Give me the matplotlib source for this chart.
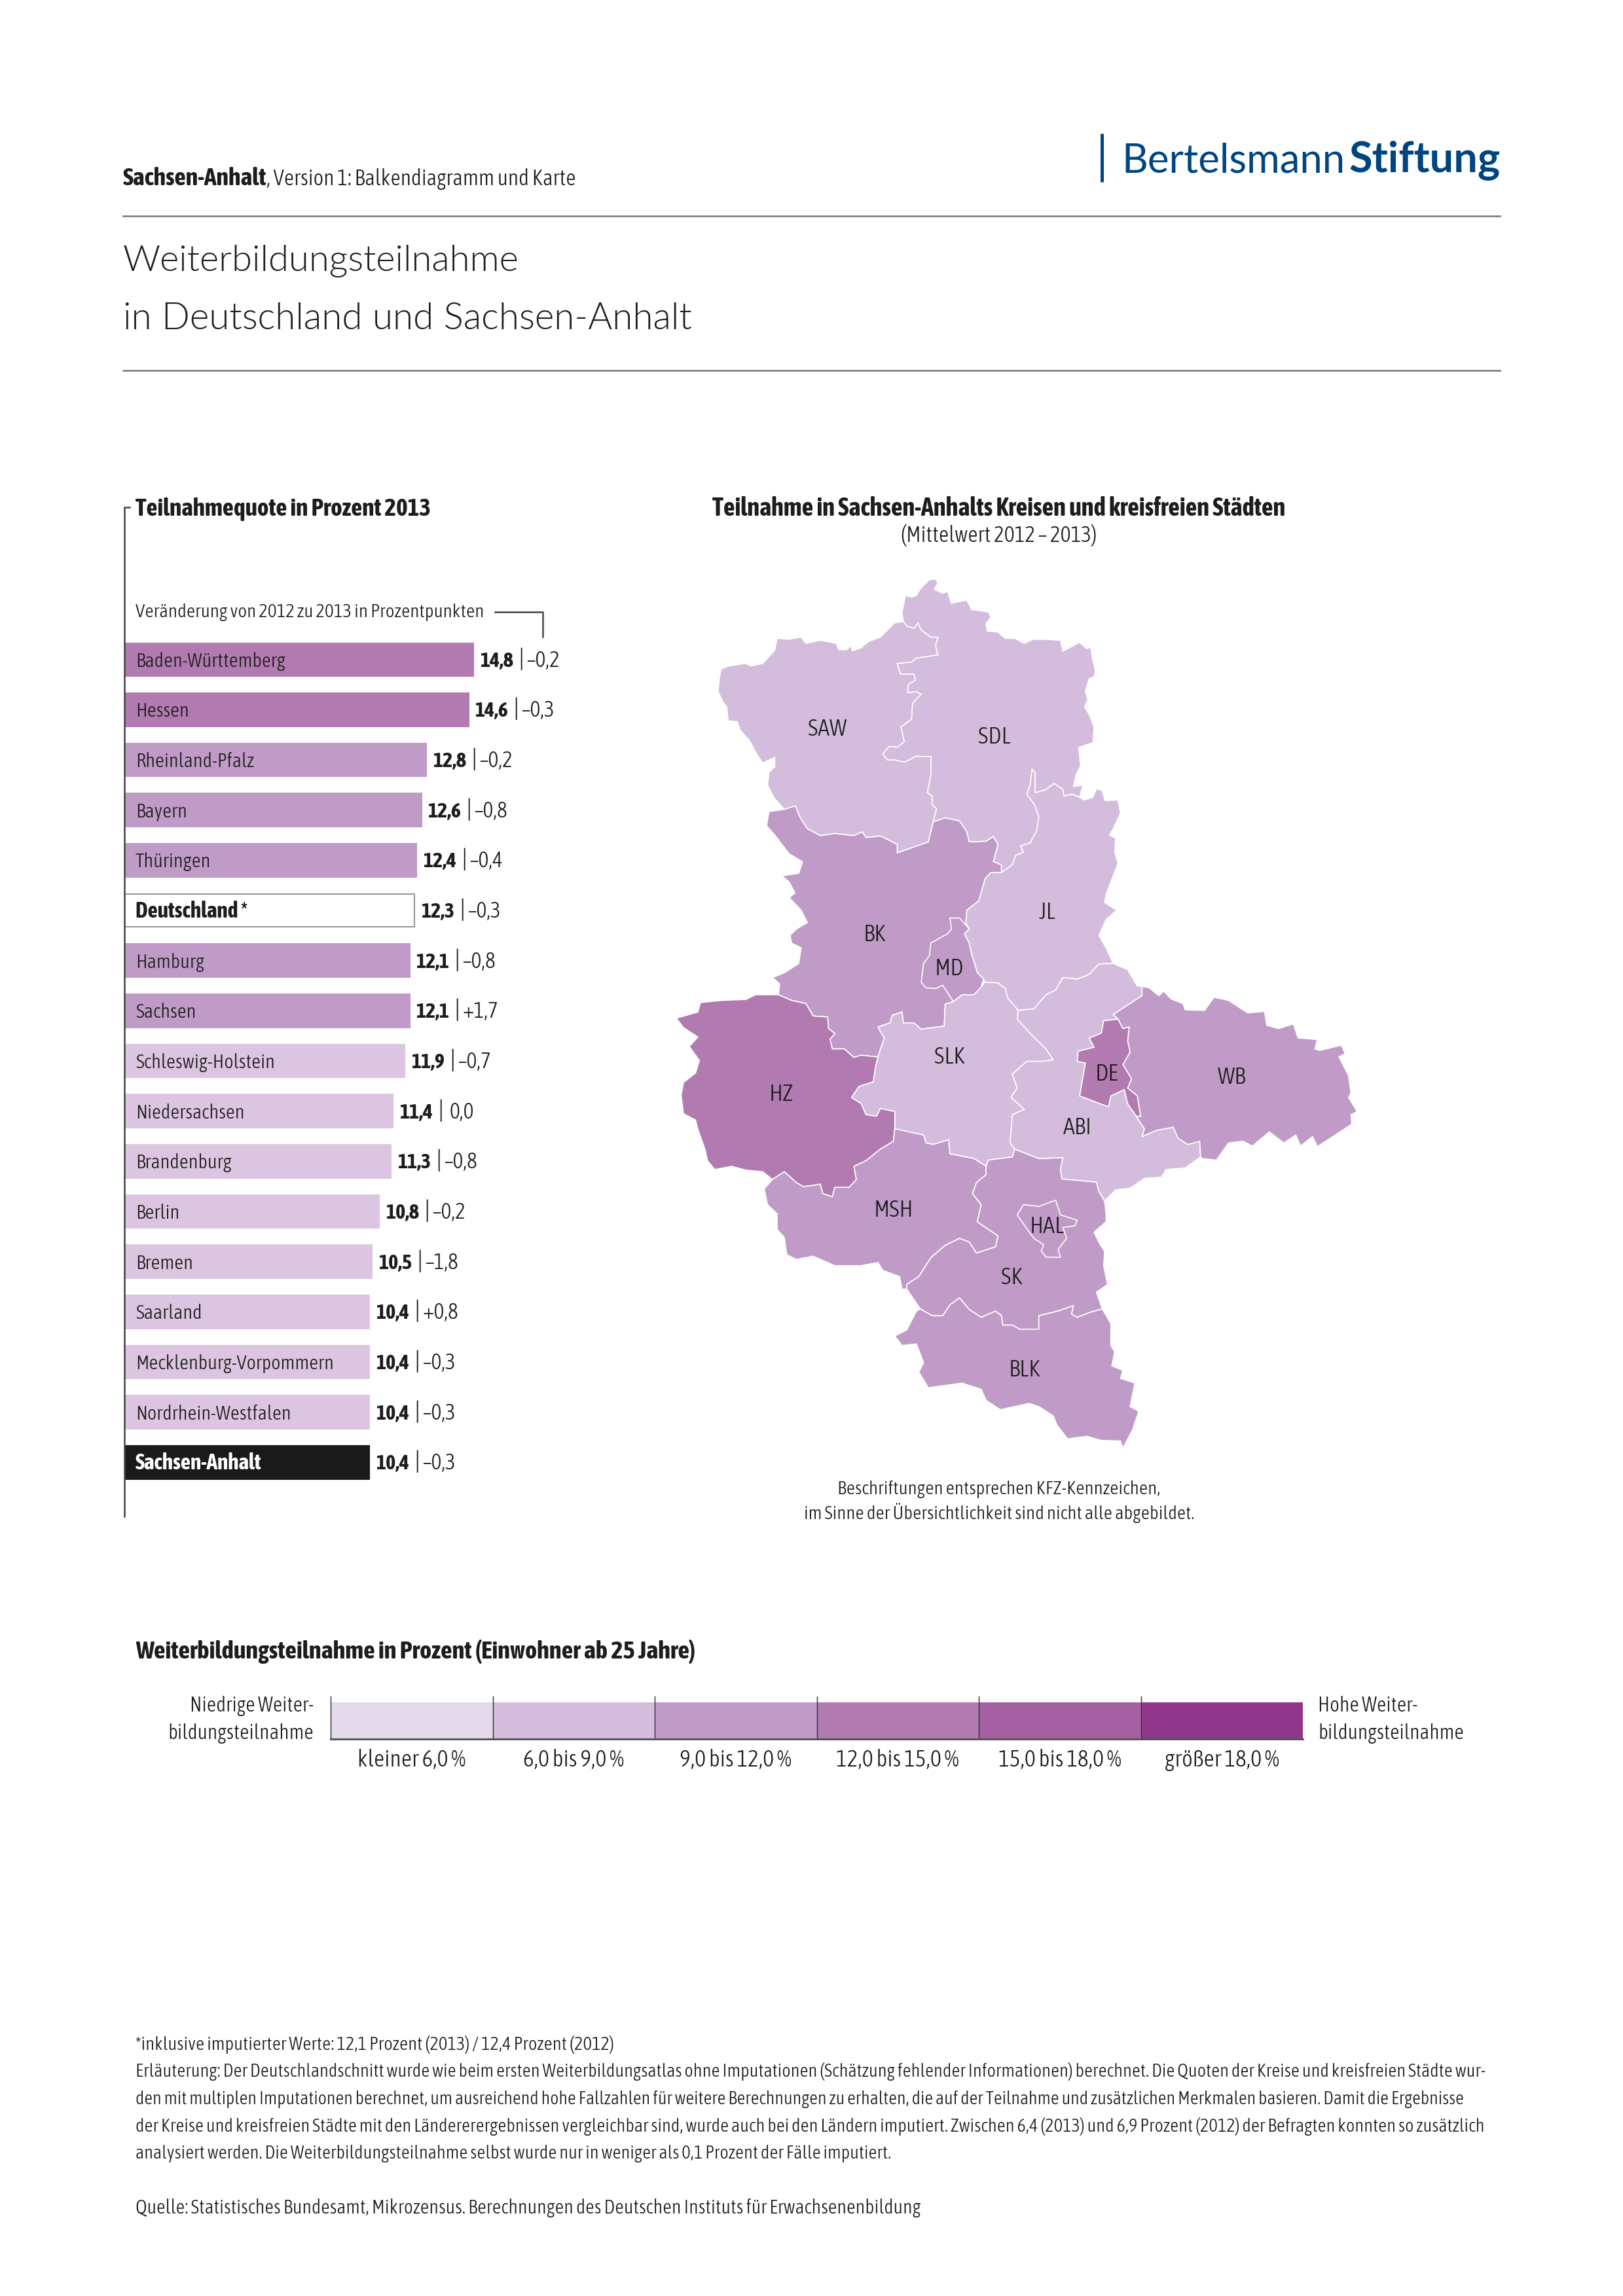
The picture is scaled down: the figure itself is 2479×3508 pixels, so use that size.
import os
import matplotlib
matplotlib.use('Agg')
import matplotlib.pyplot as plt
from matplotlib import font_manager as fm
from matplotlib.patches import Polygon

W, H = 2479, 3508
DPI = 300

plt.rcParams['font.family'] = ['DejaVu Sans']


def find_face(style):
    # look for a condensed face by file name, weights of these families are not reliable by name
    prefixes = ['OpenSansCondensed', 'OpenSans_Condensed', 'OpenSans-Condensed', 'NotoSans-Condensed',
                'NotoSansCondensed', 'AsapCondensed', 'BarlowCondensed', 'LiberationSansNarrow']
    fallback = {'Light': 'Regular', 'Bold': 'Bold'}
    for prefix in prefixes:
        for want in (style, fallback[style]):
            for f in fm.fontManager.ttflist:
                base = os.path.basename(f.fname)
                if not base.startswith(prefix) or want not in base or 'Italic' in base:
                    continue
                if want == 'Bold' and ('Extra' in base or 'Semi' in base):
                    continue
                if want == 'Light' and 'Extra' in base:
                    continue
                return f.fname
    return fm.findfont('DejaVu Sans')


LIGHT_FILE = find_face('Light')
BOLD_FILE = find_face('Bold')

# bar chart
laender = ['Baden-Württemberg', 'Hessen', 'Rheinland-Pfalz', 'Bayern', 'Thüringen', 'Deutschland *',
           'Hamburg', 'Sachsen', 'Schleswig-Holstein', 'Niedersachsen', 'Brandenburg', 'Berlin',
           'Bremen', 'Saarland', 'Mecklenburg-Vorpommern', 'Nordrhein-Westfalen', 'Sachsen-Anhalt']
quote = [14.8, 14.6, 12.8, 12.6, 12.4, 12.3, 12.1, 12.1, 11.9, 11.4, 11.3, 10.8, 10.5, 10.4, 10.4, 10.4, 10.4]
aenderung = ['–0,2', '–0,3', '–0,2', '–0,8', '–0,4', '–0,3', '–0,8', '+1,7', '–0,7', '0,0', '–0,8', '–0,2',
             '–1,8', '+0,8', '–0,3', '–0,3', '–0,3']

# legend
klassen = ['kleiner 6,0 %', '6,0 bis 9,0 %', '9,0 bis 12,0 %', '12,0 bis 15,0 %', '15,0 bis 18,0 %', 'größer 18,0 %']
klassen_farben = ['#e4d8eb', '#d4bcdc', '#c09bc8', '#b17ab1', '#a560a3', '#8f378b']

C_LIGHT = '#d4bcdc'
C_MID = '#c09bc8'
C_DARK = '#b17ab1'
C_BAR_LIGHT = '#dcc5e0'
C_TEXT = '#1d1d1b'
C_BLUE = '#00457f'

# map outlines (map axes units)
SAW = [(518,208),(500,212),(485,235),(470,258),(445,272),(430,292),(412,302),(408,285),(400,298),(383,298),(378,278),
       (345,268),(315,278),(305,258),(280,265),(255,262),(250,300),(238,320),(225,342),(200,350),(190,342),(155,350),
       (138,360),(135,385),(132,432),(142,465),(150,480),(153,525),(172,528),(178,555),(198,590),(212,630),(225,660),
       (250,642),(250,672),(238,690),(235,730),(248,770),(270,808),(293,797),(303,835),(318,870),(345,892),(375,885),
       (415,892),(432,880),(440,898),(470,893),(505,920),(505,947),(570,912),(580,848),(587,805),(578,795),(578,765),
       (568,755),(575,700),(576,640),(545,638),(520,657),(500,650),(485,650),(475,632),(488,607),(505,610),(520,592),
       (513,545),(535,520),(537,470),(555,440),(545,432),(527,435),(528,410),(543,395),(540,376),(512,376),(505,342),
       (535,338),(545,325),(590,315),(585,285),(590,258),(575,258),(555,235),(548,212),(540,230),(525,222)]
SDL = [(518,208),(515,180),(522,125),(535,130),(545,125),(555,100),(572,75),(585,72),(590,85),(582,105),(600,118),
       (610,112),(618,150),(632,145),(650,140),(660,170),(695,178),(700,195),(690,215),(692,238),(715,242),(730,262),
       (750,262),(770,278),(788,265),(815,265),(845,268),(850,303),(885,275),(900,295),(908,290),(912,330),(918,365),
       (915,385),(905,390),(897,430),(902,460),(895,480),(905,505),(915,545),(913,595),(883,610),(887,670),(878,695),
       (872,735),(892,730),(885,770),(870,760),(852,765),(850,745),(832,725),(815,745),(792,755),(792,690),(786,680),
       (782,730),(775,760),(790,790),(800,830),(796,875),(782,915),(762,925),(768,945),(752,955),(745,985),(722,1010),
       (722,985),(705,975),(715,920),(705,895),(690,910),(655,912),(650,880),(635,845),(605,835),(580,848),(587,805),
       (578,795),(578,765),(568,755),(575,700),(576,640),(545,638),(520,657),(500,650),(485,650),(475,632),(488,607),
       (505,610),(520,592),(513,545),(535,520),(537,470),(555,440),(545,432),(527,435),(528,410),(543,395),(540,376),
       (512,376),(505,342),(535,338),(545,325),(590,315),(585,285),(590,258),(575,258),(555,235),(548,212),(540,230),
       (525,222)]
BK = [(293,797),(303,835),(318,870),(345,892),(375,885),(415,892),(432,880),(440,898),(470,893),(505,920),(505,947),
      (570,912),(580,848),(605,835),(635,845),(650,880),(655,912),(690,910),(705,895),(715,920),(705,975),(722,985),
      (722,1010),(700,1010),(688,1030),(675,1100),(650,1130),(648,1170),(655,1190),(645,1205),(630,1300),(622,1422),
      (605,1430),(603,1500),(555,1510),(540,1490),(518,1490),(515,1455),(495,1465),(490,1490),(465,1503),(478,1538),
      (465,1598),(460,1598),(430,1593),(415,1600),(395,1573),(370,1573),(365,1543),(375,1523),(362,1508),(360,1471),
      (330,1468),(315,1428),(285,1418),(258,1400),(260,1365),(245,1345),(270,1330),(300,1300),(305,1250),(285,1235),
      (282,1210),(295,1190),(318,1170),(305,1130),(280,1090),(292,1075),(280,1040),(265,1020),(300,1012),(308,975),
      (280,950),(250,890),(233,860),(238,815),(270,808)]
MD = [(615,1155),(635,1155),(655,1190),(645,1205),(655,1235),(660,1270),(672,1330),(685,1350),(680,1375),(665,1400),
      (640,1400),(622,1422),(600,1370),(585,1380),(565,1378),(555,1360),(560,1300),(572,1275),(575,1235),(610,1205),
      (618,1190)]
JL = [(885,770),(895,778),(912,770),(920,742),(932,748),(938,780),(965,778),(970,820),(955,870),(947,890),(960,900),
      (958,945),(965,980),(950,1040),(940,1080),(937,1105),(962,1130),(940,1160),(925,1210),(940,1250),(955,1300),
      (925,1302),(905,1335),(880,1350),(850,1345),(835,1385),(815,1400),(790,1445),(757,1450),(735,1410),(730,1380),
      (715,1362),(688,1360),(685,1350),(672,1330),(660,1270),(655,1235),(645,1205),(655,1190),(648,1170),(650,1130),
      (675,1100),(688,1030),(700,1010),(722,1010),(745,985),(752,955),(768,945),(762,925),(782,915),(796,875),(800,830),
      (790,790),(775,760),(782,730),(786,680),(792,690),(792,755),(815,745),(832,725),(850,745),(852,765),(870,760)]
SLK = [(490,1490),(495,1465),(515,1455),(518,1490),(540,1490),(555,1510),(603,1500),(605,1430),(622,1422),(640,1400),
       (665,1400),(680,1375),(688,1360),(715,1362),(730,1380),(735,1410),(757,1450),(755,1478),(785,1528),(815,1573),
       (830,1608),(805,1613),(775,1613),(745,1653),(755,1698),(742,1728),(770,1766),(745,1783),(740,1873),(750,1893),
       (745,1918),(695,1928),(690,1948),(665,1923),(615,1908),(612,1863),(580,1878),(565,1873),(560,1848),(530,1838),
       (500,1828),(500,1773),(470,1763),(462,1788),(440,1783),(430,1748),(410,1728),(425,1693),(455,1678),(460,1628),
       (465,1598),(478,1538),(465,1503)]
HZ = [(258,1400),(285,1418),(315,1428),(330,1468),(360,1471),(362,1508),(375,1523),(365,1543),(370,1573),(395,1573),
      (415,1600),(430,1593),(460,1598),(465,1598),(460,1628),(455,1678),(425,1693),(410,1728),(430,1748),(440,1783),
      (462,1788),(470,1763),(500,1773),(500,1828),(497,1868),(470,1893),(440,1930),(415,1948),(420,1990),(405,2015),
      (375,2015),(370,2045),(350,2035),(345,2005),(310,2013),(295,2000),(270,1965),(245,1990),(225,1965),(190,1960),
      (160,1948),(125,1958),(110,1930),(105,1895),(90,1830),(85,1800),(60,1780),(55,1720),(60,1680),(85,1650),(93,1610),
      (72,1565),(90,1535),(60,1505),(45,1475),(90,1455),(95,1425),(140,1418),(190,1415),(210,1400)]
MSH = [(500,1828),(497,1868),(470,1893),(440,1930),(415,1948),(420,1990),(405,2015),(375,2015),(370,2045),(350,2035),
       (345,2005),(310,2013),(295,2000),(270,1965),(245,1990),(228,2020),(235,2070),(255,2100),(255,2150),(270,2175),
       (275,2230),(295,2245),(330,2235),(375,2265),(430,2265),(465,2255),(475,2280),(510,2300),(515,2340),(525,2340),
       (525,2325),(550,2300),(575,2240),(605,2200),(635,2178),(655,2190),(670,2225),(710,2205),(715,2170),(672,2125),
       (680,2070),(662,2035),(670,2000),(690,1975),(690,1948),(665,1923),(615,1908),(612,1863),(580,1878),(565,1873),
       (560,1848),(530,1838)]
SK = [(690,1948),(695,1928),(745,1918),(750,1893),(800,1923),(850,1920),(845,1958),(848,1988),(920,1998),(925,2028),
      (937,2058),(940,2100),(940,2125),(915,2158),(925,2190),(937,2220),(935,2265),(943,2325),(920,2350),(932,2403),
      (905,2415),(880,2430),(868,2420),(872,2393),(840,2410),(800,2425),(800,2468),(760,2468),(745,2455),(725,2455),
      (722,2425),(710,2410),(680,2430),(655,2405),(635,2368),(615,2390),(600,2425),(578,2425),(553,2403),(525,2340),
      (525,2325),(550,2300),(575,2240),(605,2200),(635,2178),(655,2190),(670,2225),(710,2205),(715,2170),(672,2125),
      (680,2070),(662,2035),(670,2000),(690,1975)]
HAL = [(768,2070),(800,2076),(835,2056),(845,2103),(880,2120),(875,2138),(850,2143),(858,2178),(840,2213),(845,2238),
       (815,2238),(805,2218),(810,2198),(790,2178),(780,2158),(755,2103)]
BLK = [(553,2403),(578,2425),(600,2425),(615,2390),(635,2368),(655,2405),(680,2430),(710,2410),(722,2425),(725,2455),
       (745,2455),(760,2468),(800,2468),(800,2425),(840,2410),(872,2393),(868,2420),(880,2430),(905,2415),(932,2403),
       (950,2450),(950,2520),(958,2540),(952,2585),(975,2600),(970,2625),(1000,2640),(990,2715),(1008,2730),(995,2790),
       (975,2848),(970,2825),(930,2823),(900,2810),(860,2818),(838,2775),(830,2745),(800,2715),(780,2705),(720,2725),
       (690,2695),(680,2660),(640,2640),(570,2655),(550,2605),(560,2575),(545,2515),(515,2520),(500,2490),(525,2470),
       (545,2410)]
ABI = [(955,1300),(985,1320),(1005,1372),(1015,1373),(1015,1403),(985,1433),(955,1463),(965,1478),(935,1483),(930,1523),
       (905,1538),(915,1568),(882,1580),(880,1613),(897,1618),(885,1723),(945,1758),(950,1723),(978,1703),(985,1748),
       (1003,1788),(1020,1828),(1015,1853),(1045,1833),(1080,1823),(1090,1858),(1110,1878),(1135,1868),(1137,1918),
       (1105,1953),(1065,1958),(1055,1983),(1020,1986),(990,2018),(960,2023),(937,2058),(925,2028),(920,1998),(848,1988),
       (845,1958),(850,1920),(800,1923),(750,1893),(740,1873),(745,1783),(770,1766),(742,1728),(755,1698),(745,1653),
       (775,1613),(805,1613),(830,1608),(815,1573),(785,1528),(755,1478),(757,1450),(790,1445),(815,1400),(835,1385),
       (850,1345),(880,1350),(905,1335),(925,1302)]
DE = [(965,1478),(975,1508),(988,1503),(985,1548),(990,1583),(975,1623),(993,1668),(985,1698),(1005,1723),(1012,1788),
      (1003,1788),(985,1748),(978,1703),(950,1723),(945,1758),(885,1723),(897,1618),(880,1613),(882,1580),(915,1568),
      (905,1538),(930,1523),(935,1483)]
WB = [(1015,1373),(1030,1378),(1050,1403),(1060,1388),(1075,1413),(1100,1428),(1105,1448),(1145,1450),(1165,1408),
      (1195,1418),(1235,1458),(1270,1453),(1275,1498),(1300,1508),(1330,1493),(1340,1538),(1380,1543),(1375,1573),
      (1385,1578),(1430,1561),(1438,1588),(1425,1598),(1445,1658),(1450,1713),(1445,1728),(1463,1773),(1450,1783),
      (1452,1813),(1380,1885),(1370,1853),(1345,1883),(1335,1848),(1310,1873),(1280,1838),(1245,1883),(1225,1868),
      (1195,1873),(1170,1928),(1140,1923),(1137,1918),(1135,1868),(1110,1878),(1090,1858),(1080,1823),(1045,1833),
      (1015,1853),(1020,1828),(1003,1788),(1012,1788),(1005,1723),(985,1698),(993,1668),(975,1623),(990,1583),(985,1548),
      (988,1503),(975,1508),(965,1478),(955,1463),(985,1433),(1015,1403)]

kreise = [('SAW', SAW, C_LIGHT, 360, 552), ('SDL', SDL, C_LIGHT, 707, 576), ('BK', BK, C_MID, 458, 1209),
          ('JL', JL, C_LIGHT, 817, 1137), ('MD', MD, C_MID, 613, 1316), ('SLK', SLK, C_LIGHT, 614, 1598),
          ('HZ', HZ, C_DARK, 264, 1717), ('MSH', MSH, C_MID, 497, 2087), ('SK', SK, C_MID, 744, 2304),
          ('HAL', HAL, C_MID, 817, 2140), ('BLK', BLK, C_MID, 770, 2597), ('ABI', ABI, C_LIGHT, 881, 1824),
          ('WB', WB, C_MID, 1202, 1664), ('DE', DE, C_DARK, 942, 1654)]

footer = ['*inklusive imputierter Werte: 12,1 Prozent (2013) / 12,4 Prozent (2012)',
          'Erläuterung: Der Deutschlandschnitt wurde wie beim ersten Weiterbildungsatlas ohne Imputationen (Schätzung fehlender Informationen) berechnet. Die Quoten der Kreise und kreisfreien Städte wur-',
          'den mit multiplen Imputationen berechnet, um ausreichend hohe Fallzahlen für weitere Berechnungen zu erhalten, die auf der Teilnahme und zusätzlichen Merkmalen basieren. Damit die Ergebnisse',
          'der Kreise und kreisfreien Städte mit den Ländererergebnissen vergleichbar sind, wurde auch bei den Ländern imputiert. Zwischen 6,4 (2013) und 6,9 Prozent (2012) der Befragten konnten so zusätzlich',
          'analysiert werden. Die Weiterbildungsteilnahme selbst wurde nur in weniger als 0,1 Prozent der Fälle imputiert.']
footer_breite = [731, 2058, 2033, 2058, None]
quelle = 'Quelle: Statistisches Bundesamt, Mikrozensus. Berechnungen des Deutschen Instituts für Erwachsenenbildung'

fig = plt.figure(figsize=(W / DPI, H / DPI), dpi=DPI, facecolor='white')
renderer = fig.canvas.get_renderer()


def add_axes_px(x0, y0, x1, y1):
    return fig.add_axes([x0 / W, 1 - y1 / H, (x1 - x0) / W, (y1 - y0) / H])


page = add_axes_px(0, 0, W, H)
page.set_xlim(0, W)
page.set_ylim(H, 0)
page.axis('off')
page.set_zorder(5)


def face(bold, size):
    return fm.FontProperties(fname=BOLD_FILE if bold else LIGHT_FILE, size=size)


def txt(x, y, s, size=8.2, ha='left', bold=False, color=C_TEXT, width=None):
    # width = wanted width in pixels, font size is scaled to it
    t = page.text(x, y, s, ha=ha, va='baseline', color=color, fontproperties=face(bold, size))
    if width:
        t.set_fontsize(size * width / t.get_window_extent(renderer).width)
    return t


def lato(x, y, s, width, weight, color):
    t = page.text(x, y, s, va='baseline', color=color, fontsize=14, fontweight=weight, fontfamily=['Lato', 'DejaVu Sans'])
    t.set_fontsize(14 * width / t.get_window_extent(renderer).width)


def size_for(s, width, bold=False):
    t = txt(0, 0, s, size=10, bold=bold)
    w = t.get_window_extent(renderer).width
    t.remove()
    return 10 * width / w


def px(v):
    return v * 72 / DPI


body = size_for('Baden-Württemberg', 228)
boldsize = size_for('14,8', 51, True)

# header
txt(188, 283, 'Sachsen-Anhalt', bold=True, width=219)
txt(407, 283, ', Version 1: Balkendiagramm und Karte', width=472)
page.plot([188, 2291], [330, 330], color='#777777', lw=0.6)
page.plot([188, 2291], [566, 566], color='#777777', lw=0.6)
page.plot([1683, 1683], [204, 278], color=C_BLUE, lw=1.2, solid_capstyle='butt')
lato(1713, 263, 'Bertelsmann', 342, 'normal', C_BLUE)
lato(2061, 263, 'Stiftung', 231, 'bold', C_BLUE)
lato(188, 414, 'Weiterbildungsteilnahme', 606, 300, C_TEXT)
lato(188, 503, 'in Deutschland und Sachsen-Anhalt', 870, 300, C_TEXT)

# bars
bar_ax = add_axes_px(190, 969.5, 910, 969.5 + 17 * 76.65)
bar_ax.set_xlim(0, 20)
bar_ax.set_ylim(16.5, -0.5)
bar_ax.axis('off')
for i, (name, val, diff) in enumerate(zip(laender, quote, aenderung)):
    if name == 'Sachsen-Anhalt':
        fc, ec, tc = '#1a1a1a', '#1a1a1a', 'white'
    elif name.startswith('Deutschland'):
        fc, ec, tc = 'white', '#999999', C_TEXT
    else:
        fc = C_DARK if val >= 14 else (C_MID if val >= 12 else C_BAR_LIGHT)
        ec, tc = fc, C_TEXT
    bar_ax.barh(i, val, height=0.66, color=fc, edgecolor=ec, linewidth=0.5)
    bold = name == 'Sachsen-Anhalt' or name.startswith('Deutschland')
    bar_ax.annotate(name, (0, i), xytext=(px(17), px(-11)), textcoords='offset points', va='baseline',
                    color=tc, fontproperties=face(bold, boldsize * 1.04 if bold else body))
    diff_off = 86 if diff == '0,0' else 81
    for off, s, fp in [(10, f'{val:.1f}'.replace('.', ','), face(True, boldsize)), (69, '|', face(False, body * 1.2)),
                       (diff_off, diff, face(False, body * 1.1))]:
        bar_ax.annotate(s, (val, i), xytext=(px(off), px(-11)), textcoords='offset points', va='baseline',
                        color=C_TEXT, fontproperties=fp)

page.plot([198, 190, 190], [775, 775, 2317], color='#444444', lw=0.6)
txt(207, 788, 'Teilnahmequote in Prozent 2013', bold=True, width=451)
txt(207, 943, 'Veränderung von 2012 zu 2013 in Prozentpunkten', width=535)
page.plot([756, 829, 829], [935, 935, 973], color='#444444', lw=0.6)

# map
txt(1526, 788, 'Teilnahme in Sachsen-Anhalts Kreisen und kreisfreien Städten', ha='center', bold=True, width=875)
txt(1526, 828, '(Mittelwert 2012 – 2013)', ha='center', width=298)
map_ax = add_axes_px(1000, 850, 2150, 850 + 2926.5 / 2.09)
map_ax.set_xlim(0, 1568)
map_ax.set_ylim(2926.5, 0)
map_ax.axis('off')
for name, pts, col, lx, ly in kreise:
    map_ax.add_patch(Polygon(pts, closed=True, facecolor=col, edgecolor='white', linewidth=0.4, joinstyle='round'))
map_size = size_for('SAW', 59)
for name, pts, col, lx, ly in kreise:
    map_ax.text(lx, ly, name, ha='center', va='center', color=C_TEXT, fontproperties=face(False, map_size))
txt(1526, 2283, 'Beschriftungen entsprechen KFZ-Kennzeichen,', ha='center', width=494)
txt(1526, 2321, 'im Sinne der Übersichtlichkeit sind nicht alle abgebildet.', ha='center', width=595)

# legend
txt(207, 2534, 'Weiterbildungsteilnahme in Prozent (Einwohner ab 25 Jahre)', bold=True, width=854)
leg_ax = add_axes_px(505, 2601, 1990, 2657)
leg_ax.set_xlim(0, 6)
leg_ax.set_ylim(0, 1)
leg_ax.axis('off')
leg_ax.bar(range(6), [1] * 6, width=1, align='edge', color=klassen_farben)
leg_size = size_for('kleiner 6,0 %', 159) * 1.04
side_size = size_for('bildungsteilnahme', 221)
for i, k in enumerate(klassen):
    page.plot([505 + i * 247.5] * 2, [2592, 2657], color='#333333', lw=0.35)
    txt(505 + (i + 0.5) * 247.5, 2699, k, ha='center', size=leg_size)
page.plot([505, 1990], [2657, 2657], color='#555555', lw=0.7)
txt(479, 2615, 'Niedrige Weiter-', ha='right', size=side_size)
txt(479, 2657, 'bildungsteilnahme', ha='right', size=side_size)
txt(2013, 2615, 'Hohe Weiter-', size=side_size)
txt(2013, 2657, 'bildungsteilnahme', size=side_size)

# footer
foot_size = size_for(footer[1], 2058)
for y, line, breite in zip([3132, 3173, 3215, 3257, 3298], footer, footer_breite):
    txt(207, y, line, size=foot_size, width=breite)
txt(207, 3382, quelle, size=foot_size, width=1196)

fig.savefig('out.png', dpi=DPI)
